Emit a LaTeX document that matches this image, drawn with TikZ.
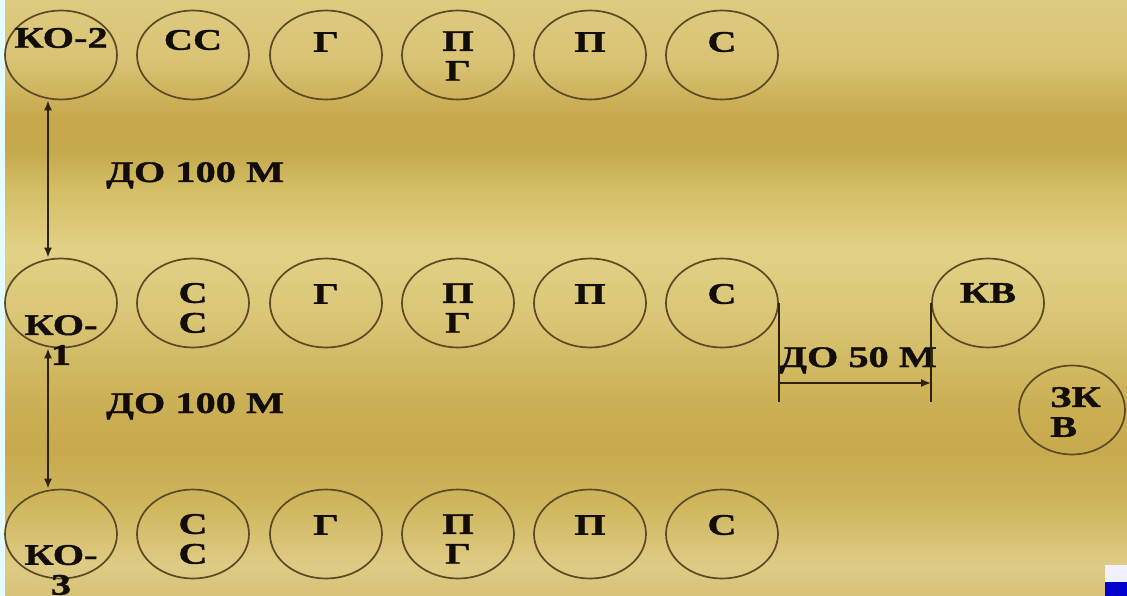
\documentclass[tikz,border=0pt]{standalone}
\usepackage{fontspec}
\setmainfont{Liberation Serif}[FakeStretch=1.35, BoldFeatures={FakeBold=1.2}]
\usepackage{tikz}
\usetikzlibrary{positioning,shapes.geometric,arrows.meta}

\definecolor{line}{HTML}{2E220C}
\definecolor{rim}{HTML}{5B4A25}
\definecolor{ink}{HTML}{120D06}
\definecolor{gA}{HTML}{D6C278}
\definecolor{gB}{HTML}{DECB85}
\definecolor{gC}{HTML}{CEB45A}
\definecolor{gD}{HTML}{C8AA4E}
\definecolor{gE}{HTML}{CCB055}
\definecolor{gF}{HTML}{D9C575}
\definecolor{gG}{HTML}{E2D286}
\definecolor{gH}{HTML}{D4BE66}
\definecolor{gI}{HTML}{C5A84C}
\definecolor{gJ}{HTML}{C6A74A}
\definecolor{gK}{HTML}{D9C375}
\definecolor{gL}{HTML}{DDCB80}
\pgfdeclareverticalshading{gold}{100bp}{color(0bp)=(gA); color(25bp)=(gA);
  color(27.6bp)=(gB); color(33.1bp)=(gC); color(37.3bp)=(gD);
  color(41.4bp)=(gE); color(48.2bp)=(gF); color(54bp)=(gG);
  color(59.1bp)=(gH); color(62.4bp)=(gI); color(64.9bp)=(gJ);
  color(70bp)=(gK); color(75bp)=(gL); color(100bp)=(gL)}

\begin{document}
\begin{tikzpicture}[x=1bp, y=-1bp,
  post/.style={draw=rim, line width=1.7bp, ellipse, minimum width=112bp,
    minimum height=89bp, inner sep=0pt},
  tag/.style={text=ink, inner sep=0pt, align=center,
    font=\fontsize{30}{30}\selectfont\bfseries},
  dim/.style={draw=line, line width=1.8bp},
  both/.style={dim, arrows={Latex[length=10bp,width=8bp]-Latex[length=10bp,width=8bp]}},
  one/.style={dim, arrows={-Latex[length=10bp,width=8bp]}}]
  \useasboundingbox (0,0) rectangle (1127,596);
  \shade[shading=gold] (0,0) rectangle (1127,596);
  \fill[blue!12!cyan!10] (0,0) rectangle (5,596);
  \fill[blue!6!white] (1105,565) rectangle (1127,582);
  \fill[blue!80!black] (1105,582) rectangle (1127,596);

  \node[post] (ko2) at (61,55) {};
  \node[post] (ss2) at (193,55) {};
  \node[post] (g2) at (326,55) {};
  \node[post] (pg2) at (458,55) {};
  \node[post] (p2) at (590,55) {};
  \node[post] (s2) at (722,55) {};

  \node[post] (ko1) at (61,303) {};
  \node[post] (ss1) at (193,303) {};
  \node[post] (g1) at (326,303) {};
  \node[post] (pg1) at (458,303) {};
  \node[post] (p1) at (590,303) {};
  \node[post] (s1) at (722,303) {};
  \node[post] (kv) at (988,303) {};
  \node[post, minimum width=106bp] (zkv) at (1072,410) {};

  \node[post] (ko3) at (61,534) {};
  \node[post] (ss3) at (193,534) {};
  \node[post] (g3) at (326,534) {};
  \node[post] (pg3) at (458,534) {};
  \node[post] (p3) at (590,534) {};
  \node[post] (s3) at (722,534) {};

  \node[tag] at ([yshift=17bp]ko2.center) {КО-2};
  \node[tag] at ([yshift=15bp]ss2.center) {СС};
  \node[tag] at ([yshift=13bp]g2.center) {Г};
  \node[tag] at ([yshift=-1bp]pg2.center) {П\\Г};
  \node[tag] at ([yshift=13bp]p2.center) {П};
  \node[tag] at ([yshift=13bp]s2.center) {С};

  \node[tag] at ([yshift=-37bp]ko1.center) {КО-\\1};
  \node[tag] at ([yshift=-5bp]ss1.center) {С\\С};
  \node[tag] at ([yshift=9bp]g1.center) {Г};
  \node[tag] at ([yshift=-5bp]pg1.center) {П\\Г};
  \node[tag] at ([yshift=9bp]p1.center) {П};
  \node[tag] at ([yshift=9bp]s1.center) {С};
  \node[tag] at ([yshift=10bp]kv.center) {КВ};
  \node[tag, align=left, anchor=west] at (1050,412) {ЗК\\В};

  \node[tag] at ([yshift=-36bp]ko3.center) {КО-\\3};
  \node[tag] at ([yshift=-5bp]ss3.center) {С\\С};
  \node[tag] at ([yshift=9bp]g3.center) {Г};
  \node[tag] at ([yshift=-5bp]pg3.center) {П\\Г};
  \node[tag] at ([yshift=9bp]p3.center) {П};
  \node[tag] at ([yshift=9bp]s3.center) {С};

  \node[tag, anchor=base west] (d12) at (106,182) {ДО 100 М};
  \node[tag, anchor=base west] (d13) at (106,413) {ДО 100 М};
  \node[tag, anchor=base west] (d50) at (779,367) {ДО 50 М};

  \draw[both] ([xshift=-13bp]ko2.south) -- ([xshift=-13bp]ko1.north);
  \draw[both] ([xshift=-13bp]ko1.south) -- ([xshift=-13bp]ko3.north);

  \coordinate (e1) at ([yshift=-99bp]s1.east);
  \coordinate (e2) at ([yshift=-99bp]kv.west);
  \draw[dim] (s1.east) -- (e1);
  \draw[dim] (kv.west) -- (e2);
  \draw[one] ([yshift=-80bp]s1.east) -- ([yshift=-80bp]kv.west);
\end{tikzpicture}
\end{document}
